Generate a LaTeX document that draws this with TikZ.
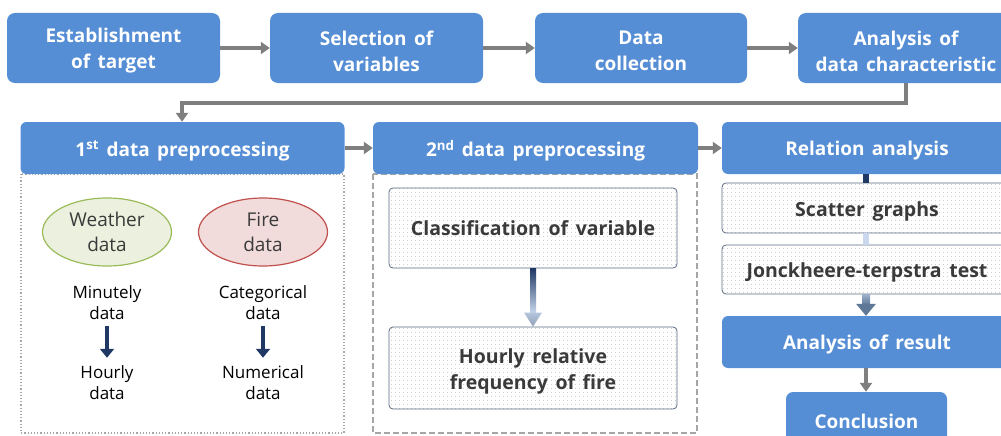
\documentclass[tikz,border=0pt]{standalone}
\usepackage{fontspec}
\setmainfont[WordSpace=1.5]{Open Sans}
\usetikzlibrary{arrows.meta,patterns.meta,shapes.geometric,calc}

\definecolor{boxblue}{HTML}{558ED5}
\definecolor{arrowgray}{HTML}{7F7F7F}
\definecolor{navy}{HTML}{1F3864}
\definecolor{paleblue}{HTML}{C9D8EE}
\definecolor{steel}{HTML}{5F7898}
\definecolor{framegray}{HTML}{A6A6A6}
\definecolor{innerline}{HTML}{5B6B80}
\definecolor{darktext}{HTML}{3A3A3A}
\definecolor{wfill}{HTML}{EBF1DE}
\definecolor{wline}{HTML}{9BBB59}
\definecolor{ffill}{HTML}{F2DCDB}
\definecolor{fline}{HTML}{C0504D}

% set a line of box text a little lower without changing the box size
\newcommand{\dn}[1]{\raisebox{-3pt}[\height][\depth]{#1}}

\tikzset{
  blockbox/.style={rectangle, rounded corners=8pt, fill=boxblue, text=white,
    font=\bfseries\fontsize{19}{26}\selectfont, align=center, inner sep=0pt},
  headbox/.style={blockbox, rounded corners=6pt},
  dotbox/.style={rectangle, rounded corners=4pt, draw=innerline, line width=0.8pt,
    preaction={fill=white},
    pattern={Dots[distance=4pt,radius=0.5pt]}, pattern color=gray!65,
    text=darktext, font=\bfseries\fontsize{19.5}{26}\selectfont, align=center, inner sep=0pt},
  flowarrow/.style={draw=arrowgray, line width=4pt, -{Triangle[length=9pt,width=12pt]}},
  datablob/.style={ellipse, line width=1.2pt, text=darktext,
    font=\fontsize{19}{25}\selectfont, align=center, inner sep=0pt,
    minimum width=129pt, minimum height=68pt},
  plainlabel/.style={font=\fontsize{17}{21}\selectfont, align=center, inner sep=0pt},
  downarrow/.style={draw=navy, line width=4pt, -{Triangle[length=9pt,width=14pt]}},
}

\begin{document}
\begin{tikzpicture}[x=1pt,y=-1pt]
\useasboundingbox (0,0) rectangle (1001,436);
\clip (0,0) rectangle (1001,436);

% top row of the workflow
\node[blockbox, minimum width=213pt, minimum height=70pt] (est) at (113.5,48) {\dn{Establishment}\\\dn{of target}};
\node[blockbox, minimum width=213pt, minimum height=70pt] (sel) at (376.5,48) {\dn{Selection of}\\\dn{variables}};
\node[blockbox, minimum width=212pt, minimum height=70pt] (col) at (641,48) {\dn{Data}\\\dn{collection}};
\node[blockbox, minimum width=216pt, minimum height=70pt] (chr) at (906,48) {\dn{Analysis of}\\\dn{data characteristic}};

\draw[flowarrow] (est.east) -- (sel.west);
\draw[flowarrow] (sel.east) -- (col.west);
\draw[flowarrow] (col.east) -- (chr.west);

% frames below the preprocessing headers
\draw[framegray, line width=1.2pt, dotted] (21,174) rectangle (344,433);
\draw[framegray, line width=1.2pt, dash pattern=on 6pt off 3pt] (373,174) rectangle (697,433);

% second row headers
\node[headbox, minimum width=324pt, minimum height=52pt] (pre1) at (182.5,148) {\dn{1\textsuperscript{st} data preprocessing}};
\node[headbox, minimum width=325pt, minimum height=52pt] (pre2) at (535.5,148) {\dn{2\textsuperscript{nd} data preprocessing}};
\node[headbox, minimum width=290pt, minimum height=52pt] (rel) at (867,148) {\dn{Relation analysis}};

% loop back from the first row
\coordinate (bendR) at (906,103);
\coordinate (bendL) at (182,103);
\draw[flowarrow] (chr.south -| bendR) -- (bendR) -- (bendL) -- (pre1.north -| bendL);

\draw[flowarrow] (pre1.east) -- (pre2.west);
\draw[flowarrow] (pre2.east) -- (rel.west);

% first preprocessing: weather and fire data
\node[datablob, draw=wline, fill=wfill] (weather) at (107,232) {Weather\\data};
\node[datablob, draw=fline, fill=ffill] (fire) at (263,232) {Fire\\data};

\node[plainlabel] (minute) at (107,303) {Minutely\\data};
\node[plainlabel] (hour) at (107,383) {Hourly\\data};
\node[plainlabel] (categ) at (263,303) {Categorical\\data};
\node[plainlabel] (numer) at (263,383) {Numerical\\data};

\draw[downarrow] ($(minute.south)+(0,6)$) -- ($(hour.north)+(0,-8)$);
\draw[downarrow] ($(categ.south)+(0,6)$) -- ($(numer.north)+(0,-8)$);

% second preprocessing
\node[dotbox, minimum width=288pt, minimum height=80pt] (classif) at (533,228) {Classification of variable};
\node[dotbox, minimum width=288pt, minimum height=82pt] (hourly) at (533,368) {\dn{Hourly relative}\\\dn{frequency of fire}};

\shade[top color=navy, bottom color=paleblue]
  ($(classif.south)+(-3,0)$) rectangle ($(hourly.north)+(3,-13)$);
\shade[top color=paleblue!80!steel, bottom color=steel!70]
  ($(hourly.north)+(-9,-14)$) -- ($(hourly.north)+(9,-14)$) -- (hourly.north) -- cycle;

% relation analysis and its results
\node[dotbox, minimum width=290pt, minimum height=50pt] (scatter) at (867,208) {\dn{Scatter graphs}};
\node[dotbox, minimum width=290pt, minimum height=49pt] (jt) at (867,269.5) {\dn{Jonckheere-terpstra test}};
\node[headbox, minimum width=290pt, minimum height=52pt] (res) at (867,342) {\dn{Analysis of result}};
\node[blockbox, rounded corners=7pt, minimum width=161pt, minimum height=58pt] (concl) at (866.5,421) {Conclusion};

\fill[navy] ($(rel.south -| 866,0)+(-3,0)$) rectangle ($(scatter.north -| 866,0)+(3,0)$);
\fill[paleblue] ($(scatter.south -| 866,0)+(-3,0)$) rectangle ($(jt.north -| 866,0)+(3,0)$);

\shade[top color=paleblue!60!steel, bottom color=steel]
  ($(jt.south -| 866,0)+(-4,0)$) rectangle ($(res.north -| 866,0)+(4,-11)$);
\fill[steel]
  ($(res.north -| 866,0)+(-10,-12)$) -- ($(res.north -| 866,0)+(10,-12)$) -- (res.north -| 866,0) -- cycle;

\draw[flowarrow, line width=3.5pt] (res.south -| 866,0) -- (concl.north -| 866,0);
\end{tikzpicture}
\end{document}
